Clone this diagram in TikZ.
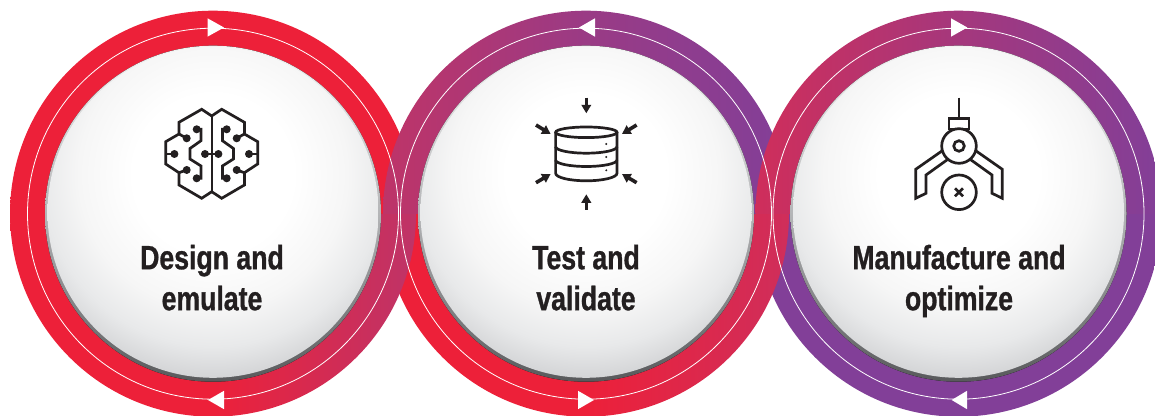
\documentclass[tikz,border=0pt]{standalone}
\usepackage{fontspec}
\newfontfamily\labelfont[FakeStretch=0.79,FakeBold=0.9]{Liberation Sans Bold}
\usetikzlibrary{arrows.meta,calc}

\definecolor{ringred}{HTML}{ED2039}
\definecolor{ringmag}{HTML}{BE3468}
\definecolor{ringcrim}{HTML}{CF2E5B}
\definecolor{ringpur}{HTML}{823F98}
\definecolor{ink}{HTML}{231F20}
\definecolor{rimtop}{HTML}{F2F2F2}
\definecolor{rimmid}{HTML}{B4B5B7}
\definecolor{rimbot}{HTML}{58595B}
\definecolor{ballb}{HTML}{F6F6F6}
\definecolor{ballc}{HTML}{E8E9EA}
\definecolor{balld}{HTML}{CFD0D2}

\pgfdeclareradialshading{ballfill}{\pgfpointorigin}{%
  color(0bp)=(white); color(9.5bp)=(white); color(16bp)=(ballb);
  color(20.5bp)=(ballc); color(25bp)=(balld); color(50bp)=(balld)}

\tikzset{
  ring/.style={even odd rule},
  rim/.style={top color=rimtop,bottom color=rimbot,middle color=rimmid},
  ball/.style={path picture={\shade[shading=ballfill] ($(path picture bounding box.center)+(0,.38)$) circle [radius=2.1];}},
  thread/.style={white,line width=.008cm},
  tipmark/.style={fill=white},
  icon/.style={ink,line width=.027cm},
  inarrow/.style={ink,line width=.036cm,-{Triangle[length=.085cm,width=.095cm]}},
  label/.style={text=ink,align=center,text depth=0cm,font=\labelfont\fontsize{9.6}{11.65}\selectfont},
  brainhalf/.pic={
    \draw [icon] (0,.38) -- (-.10,.447) -- (-.327,.317) -- (-.327,.20) -- (-.46,.123) -- (-.46,-.10) -- (-.327,-.187) -- (-.327,-.31) -- (-.10,-.443) -- (0,-.377);
    \draw [icon] (-.15,.247) -- (-.107,.247) -- (-.107,.133) -- (-.217,.055) -- (-.217,-.05) -- (-.107,-.12) -- (-.107,-.243) -- (-.15,-.243);
    \draw [icon] (-.25,.157) -- (-.327,.20);
    \draw [icon] (-.25,-.16) -- (-.327,-.187);
    \draw [icon] (-.373,0) -- (-.46,0);
    \draw [icon] (-.067,0) -- (0,0);
    \fill [ink] (-.15,.247) circle [radius=.04];
    \fill [ink] (-.15,-.243) circle [radius=.04];
    \fill [ink] (-.25,.157) circle [radius=.04];
    \fill [ink] (-.25,-.16) circle [radius=.04];
    \fill [ink] (-.373,0) circle [radius=.04];
    \fill [ink] (-.067,0) circle [radius=.04];
  },
  gripperarm/.pic={
    \draw [icon,line join=miter] (-.167,-.047) -- (-.433,-.233) -- (-.433,-.523) -- (-.33,-.473) -- (-.33,-.29) -- (-.107,-.13);
  }
}

\begin{document}
\begin{tikzpicture}
	\useasboundingbox (0,0) rectangle (11.55,4.16);

	\coordinate (ringa) at (2.13,2.023);
	\coordinate (ringb) at (5.86,2.023);
	\coordinate (ringc) at (9.585,2.023);

	% lower halves, left ring lies on top
	\begin{scope}
		\clip (0,-.1) rectangle (11.7,2.03);
		\shade [ring,left color=ringpur,right color=ringpur] (ringc) circle [radius=2.03] (ringc) circle [radius=1.67];
		\shade [ring,left color=ringred,right color=ringcrim,middle color=ringred] (ringb) circle [radius=2.03] (ringb) circle [radius=1.67];
		\shade [ring,left color=ringred,right color=ringmag,middle color=ringred] (ringa) circle [radius=2.03] (ringa) circle [radius=1.67];
	\end{scope}

	% upper halves, right ring lies on top
	\begin{scope}
		\clip (0,2.02) rectangle (11.7,4.2);
		\shade [ring,left color=ringred,right color=ringred] (ringa) circle [radius=2.03] (ringa) circle [radius=1.67];
		\shade [ring,left color=ringmag,right color=ringpur,middle color=ringpur!60!ringmag] (ringb) circle [radius=2.03] (ringb) circle [radius=1.67];
		\shade [ring,left color=ringcrim,right color=ringpur,middle color=ringpur!55!ringcrim] (ringc) circle [radius=2.03] (ringc) circle [radius=1.67];
	\end{scope}

	\draw [thread] (ringa) circle [radius=1.855];
	\draw [thread] (ringb) circle [radius=1.855];
	\draw [thread] (ringc) circle [radius=1.855];

	\fill [tipmark] (2.075,3.977) -- (2.24,3.885) -- (2.075,3.793) -- cycle;
	\fill [tipmark] (2.24,.252) -- (2.08,.16) -- (2.24,.068) -- cycle;
	\fill [tipmark] (5.95,3.977) -- (5.79,3.885) -- (5.95,3.793) -- cycle;
	\fill [tipmark] (5.78,.252) -- (5.94,.16) -- (5.78,.068) -- cycle;
	\fill [tipmark] (9.51,3.977) -- (9.673,3.885) -- (9.51,3.793) -- cycle;
	\fill [tipmark] (9.67,.252) -- (9.517,.16) -- (9.67,.068) -- cycle;

	\fill [rim] (ringa) circle [radius=1.68];
	\fill [rim] (ringb) circle [radius=1.68];
	\fill [rim] (ringc) circle [radius=1.68];
	\path [ball] ($(ringa)+(0,.014)$) circle [radius=1.655];
	\path [ball] ($(ringb)+(0,.014)$) circle [radius=1.655];
	\path [ball] ($(ringc)+(0,.014)$) circle [radius=1.655];

	% brain
	\pic at (2.117,2.62) {brainhalf};
	\pic [xscale=-1] at (2.117,2.62) {brainhalf};
	\draw [icon,line width=.016cm] (2.117,3.0) -- (2.117,2.243);

	% database
	\begin{scope}[shift={(5.863,2.63)}]
		\draw [icon] (0,.207) ellipse [x radius=.307,y radius=.053];
		\draw [icon] (-.307,.207) -- (-.307,-.203) arc [start angle=180,end angle=360,x radius=.307,y radius=.075] -- (.307,.207);
		\draw [icon] (-.307,.063) arc [start angle=180,end angle=360,x radius=.307,y radius=.065];
		\draw [icon] (-.307,-.07) arc [start angle=180,end angle=360,x radius=.307,y radius=.065];
		\fill [ink] (.2,.09) circle [radius=.011];
		\fill [ink] (.2,-.04) circle [radius=.011];
		\fill [ink] (.2,-.173) circle [radius=.011];
		\draw [inarrow] (0,.553) -- (0,.397);
		\draw [inarrow] (0,-.57) -- (0,-.413);
		\draw [inarrow] (-.503,.28) -- (-.357,.19);
		\draw [inarrow] (.503,.28) -- (.357,.19);
		\draw [inarrow] (-.503,-.297) -- (-.357,-.21);
		\draw [inarrow] (.503,-.297) -- (.357,-.21);
	\end{scope}

	% gripper
	\begin{scope}[shift={(9.59,2.70)}]
		\draw [icon] (0,.483) -- (0,.277);
		\draw [icon] (-.1,.17) rectangle (.1,.277);
		\draw [icon] (0,0) circle [radius=.173];
		\draw [icon] (0,0) circle [radius=.053];
		\draw [icon] (0,-.463) circle [radius=.173];
		\draw [icon] (-.04,-.423) -- (.04,-.503);
		\draw [icon] (-.04,-.503) -- (.04,-.423);
		\pic {gripperarm};
		\pic [xscale=-1] {gripperarm};
	\end{scope}

	\node [label] (design) at (2.12,1.385) {Design and\\emulate};
	\node [label] (validate) at (5.86,1.385) {Test and\\validate};
	\node [label] (optimize) at (9.59,1.385) {Manufacture and\\optimize};
\end{tikzpicture}
\end{document}
